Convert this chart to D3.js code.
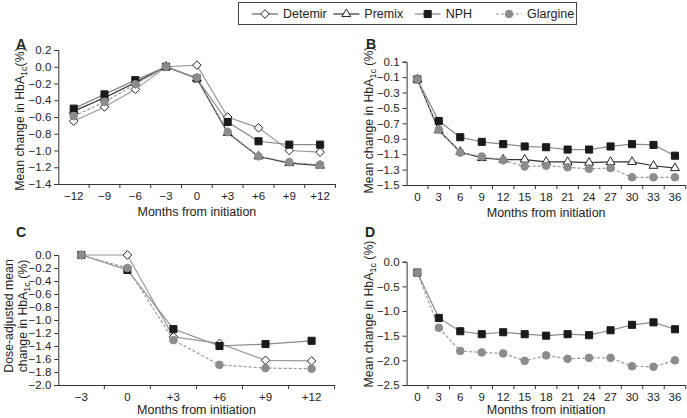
<!DOCTYPE html>
<html><head><meta charset="utf-8">
<script src="https://cdn.jsdelivr.net/npm/d3@7"></script>
<style>
body{margin:0;background:#fff;}
text{font-family:"Liberation Sans",Arial,sans-serif;fill:#222;}
</style></head>
<body><svg id="c" width="687" height="418"></svg>
<script>
// ---- data ----
const catsA = ["−12","−9","−6","−3","0","+3","+6","+9","+12"];
const detemirA = [-0.65,-0.48,-0.27,0.00,0.02,-0.60,-0.73,-1.00,-1.02];
const premixA  = [-0.53,-0.37,-0.19,0.00,-0.14,-0.79,-1.07,-1.15,-1.18];
const nphA     = [-0.50,-0.33,-0.16,0.00,-0.14,-0.66,-0.89,-0.93,-0.93];
const glargineA= [-0.59,-0.42,-0.21,0.00,-0.13,-0.78,-1.07,-1.14,-1.17];
const ticksA = [0.2,0.0,-0.2,-0.4,-0.6,-0.8,-1.0,-1.2,-1.4];

const catsB = ["0","3","6","9","12","15","18","21","24","27","30","33","36"];
const nphB     = [-0.13,-0.67,-0.88,-0.94,-0.97,-1.00,-1.01,-1.04,-1.04,-1.00,-0.97,-0.98,-1.12];
const premixB  = [-0.13,-0.79,-1.07,-1.15,-1.17,-1.17,-1.20,-1.20,-1.21,-1.20,-1.20,-1.25,-1.28];
const glargineB= [-0.13,-0.78,-1.08,-1.13,-1.18,-1.26,-1.25,-1.27,-1.29,-1.28,-1.40,-1.40,-1.40];
const ticksB = [0.1,-0.1,-0.3,-0.5,-0.7,-0.9,-1.1,-1.3,-1.5];

const catsC = ["−3","0","+3","+6","+9","+12"];
const detemirC = [0.00,0.00,-1.26,-1.36,-1.62,-1.63];
const nphC     = [0.00,-0.23,-1.14,-1.40,-1.37,-1.32];
const glargineC= [0.00,-0.20,-1.31,-1.69,-1.74,-1.75];
const ticksC = [0.0,-0.2,-0.4,-0.6,-0.8,-1.0,-1.2,-1.4,-1.6,-1.8,-2.0];

const catsD = ["0","3","6","9","12","15","18","21","24","27","30","33","36"];
const nphD     = [-0.22,-1.14,-1.41,-1.47,-1.43,-1.47,-1.50,-1.47,-1.49,-1.39,-1.28,-1.23,-1.37];
const glargineD= [-0.22,-1.34,-1.81,-1.84,-1.86,-2.01,-1.90,-1.97,-1.95,-1.95,-2.12,-2.13,-2.00];
const ticksD = [0.0,-0.5,-1.0,-1.5,-2.0,-2.5];

const legendNames = ["Detemir","Premix","NPH","Glargine"];

// ---- styles ----
const style = {
  Detemir: {line:"#9a9a9a", dash:null, marker:"diamond", fill:"#fff", stroke:"#222"},
  Premix:  {line:"#333", dash:null, marker:"triangle", fill:"#fff", stroke:"#222"},
  NPH:     {line:"#8a8a8a", dash:null, marker:"square", fill:"#1a1a1a", stroke:"#1a1a1a"},
  Glargine:{line:"#999", dash:"3,2", marker:"circle", fill:"#8c8c8c", stroke:"#8c8c8c"}
};
const svg = d3.select("#c");

function markerPath(type){
  if(type==="diamond") return "M0,-4.3L4.3,0L0,4.3L-4.3,0Z";
  if(type==="triangle") return d3.symbol(d3.symbolTriangle, 34)();
  if(type==="square") return d3.symbol(d3.symbolSquare, 50)();
  return d3.symbol(d3.symbolCircle, 46)();
}

function panel(o){
  const g = svg.append("g");
  const x = d3.scaleBand().domain(o.cats).range([o.x0,o.x1]).paddingInner(0).paddingOuter(0);
  const y = d3.scaleLinear().domain([o.ticks[0], o.ticks[o.ticks.length-1]]).range([o.y0,o.y1]);
  const ya = g.append("g").attr("transform",`translate(${o.x0},0)`)
    .call(d3.axisLeft(y).tickValues(o.ticks).tickSize(4).tickPadding(3)
      .tickFormat(v=>{const s=d3.format(o.fmt)(Math.abs(v)); return (v< -1e-9?"−":"")+s;}));
  ya.select(".domain").attr("stroke","#333");
  ya.selectAll(".tick line").attr("stroke","#333");
  ya.selectAll("text").style("font-size","11.5px").attr("fill","#222");
  const xa = g.append("g").attr("transform",`translate(0,${o.y1})`)
    .call(d3.axisBottom(x).tickSize(0).tickPadding(8));
  xa.select(".domain").attr("stroke","#333");
  xa.selectAll("text").style("font-size","11.5px").attr("fill","#222");
  const bounds = o.cats.slice(1).map(c=>x(c)).concat([o.x1]);
  g.selectAll(".bt").data(bounds).join("line")
    .attr("x1",d=>d).attr("x2",d=>d).attr("y1",o.y1).attr("y2",o.y1+4).attr("stroke","#333");
  o.series.forEach(s=>{
    const st = style[s.name];
    const line = d3.line().x((d,i)=>x(o.cats[i])+x.bandwidth()/2).y(d=>y(d));
    g.append("path").datum(s.values).attr("d",line).attr("fill","none")
      .attr("stroke",st.line).attr("stroke-width",1.2).attr("stroke-dasharray",st.dash);
  });
  o.series.forEach(s=>{
    const st = style[s.name];
    g.selectAll(null).data(s.values).join("path")
      .attr("transform",(d,i)=>`translate(${x(o.cats[i])+x.bandwidth()/2},${y(d)})`)
      .attr("d",markerPath(st.marker)).attr("fill",st.fill).attr("stroke",st.stroke).attr("stroke-width",1);
  });
  g.append("text").attr("x",o.lx).attr("y",o.ly).text(o.letter)
    .style("font-size","14px").style("font-weight","bold").attr("fill","#111");
  g.append("text").attr("x",(o.x0+o.x1)/2).attr("y",o.xty).attr("text-anchor","middle")
    .style("font-size","12.5px").text("Months from initiation");
  o.ytitle.forEach((ln,k)=>{
    const t = g.append("text").attr("transform",`translate(${ln.x},${o.ymid}) rotate(-90)`)
      .attr("text-anchor","middle").style("font-size","12.3px");
    t.append("tspan").text(ln.pre);
    if(ln.sub){
      t.append("tspan").text(ln.sub).attr("dy",3).style("font-size","9px");
      t.append("tspan").text(ln.post).attr("dy",-3);
    }
  });
}

panel({letter:"A", lx:16, ly:49, cats:catsA, ticks:ticksA, fmt:".1f",
  x0:58.3, x1:335.5, y0:50, y1:184, ymid:119, xty:216,
  ytitle:[{x:24, pre:"Mean change in HbA", sub:"1c", post:"(%)"}],
  series:[{name:"Detemir",values:detemirA},{name:"Premix",values:premixA},{name:"NPH",values:nphA},{name:"Glargine",values:glargineA}]});
panel({letter:"B", lx:366, ly:49, cats:catsB, ticks:ticksB, fmt:".1f",
  x0:406.6, x1:685.7, y0:61.7, y1:185, ymid:120, xty:217,
  ytitle:[{x:373, pre:"Mean change in HbA", sub:"1c", post:" (%)"}],
  series:[{name:"Premix",values:premixB},{name:"NPH",values:nphB},{name:"Glargine",values:glargineB}]});
panel({letter:"C", lx:16, ly:237, cats:catsC, ticks:ticksC, fmt:".1f",
  x0:58.3, x1:334.6, y0:255, y1:385, ymid:316, xty:414,
  ytitle:[{x:13, pre:"Dose-adjusted mean"},{x:27, pre:"change in HbA", sub:"1c", post:" (%)"}],
  series:[{name:"Detemir",values:detemirC},{name:"NPH",values:nphC},{name:"Glargine",values:glargineC}]});
panel({letter:"D", lx:365, ly:237, cats:catsD, ticks:ticksD, fmt:".1f",
  x0:406.6, x1:685.7, y0:261.7, y1:385, ymid:314, xty:414,
  ytitle:[{x:373, pre:"Mean change in HbA", sub:"1c", post:" (%)"}],
  series:[{name:"NPH",values:nphD},{name:"Glargine",values:glargineD}]});

// legend
const lg = svg.append("g");
lg.append("rect").attr("x",238.5).attr("y",2.5).attr("width",338).attr("height",22)
  .attr("fill","#fff").attr("stroke","#444").attr("stroke-width",1);
const lx = d3.scalePoint().domain(legendNames).range([252,496]);
legendNames.forEach(n=>{
  const st = style[n]; const x0 = lx(n);
  lg.append("line").attr("x1",x0).attr("x2",x0+26).attr("y1",14).attr("y2",14)
    .attr("stroke",st.line==="#9a9a9a"?"#666":st.line).attr("stroke-width",1.2).attr("stroke-dasharray",st.dash);
  lg.append("path").attr("transform",`translate(${x0+13},14)`).attr("d",markerPath(st.marker))
    .attr("fill",st.fill).attr("stroke",st.stroke);
  lg.append("text").attr("x",x0+31).attr("y",18).style("font-size","12.5px").text(n);
});
</script></body></html>
